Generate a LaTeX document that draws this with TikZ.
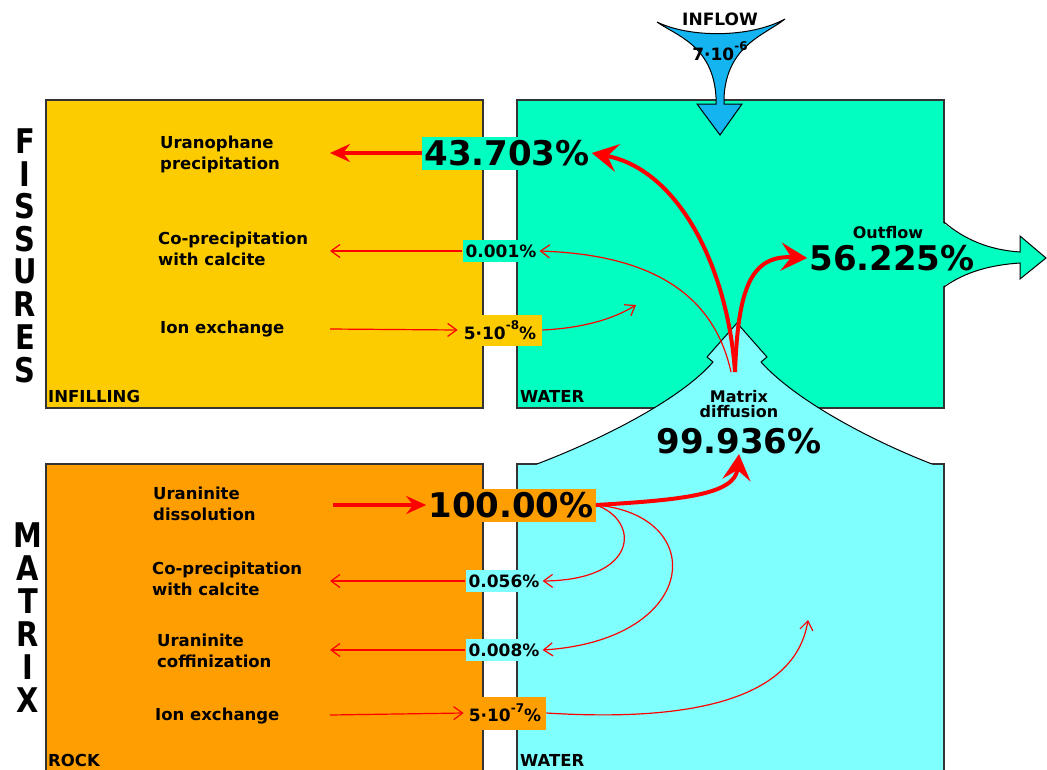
\documentclass[tikz,border=0pt]{standalone}
\usepackage{fontspec}
\setmainfont{DejaVu Sans}
\usetikzlibrary{arrows.meta}
\definecolor{infill}{RGB}{252,204,0}
\definecolor{fwater}{RGB}{0,255,192}
\definecolor{rock}{RGB}{255,158,0}
\definecolor{mwater}{RGB}{128,255,255}
\definecolor{inflow}{RGB}{20,180,240}
\newcommand{\pw}[1]{\raisebox{0.55em}{\fontsize{12}{12}\selectfont #1}}
\begin{document}
\begin{tikzpicture}[
			x=1pt,y=-1pt,
			box/.style={draw=black!80,line width=1.2pt},
			lbl/.style={font=\bfseries\fontsize{16.5}{21}\selectfont,align=left,anchor=west,inner sep=0pt},
			pbig/.style={font=\bfseries\fontsize{34}{34}\selectfont,inner xsep=2pt,inner ysep=0pt,minimum height=33pt},
			psmall/.style={font=\bfseries\fontsize{17}{17}\selectfont,inner xsep=3pt,inner ysep=0pt,minimum height=22pt},
			letter/.style={font=\bfseries\fontsize{34}{34}\selectfont,inner sep=0pt},
			bigflow/.style={red,line width=4pt,-{Stealth[length=26pt,width=28pt,inset=10pt]}},
			midflow/.style={red,line width=3.5pt,-{Stealth[length=20pt,width=18pt,inset=7pt]}},
			smallflow/.style={red,line width=1.2pt,-{Straight Barb[length=9pt,width=13pt]}}
		]
		\useasboundingbox (0,0) rectangle (1047,769);
		\draw[box,fill=infill] (46,100) rectangle (483,408);
		\draw[box,fill=fwater] (517,100) rectangle (944,408);
		\draw[box,fill=rock] (46,464) rectangle (483,790);
		\draw[box,fill=mwater] (517,464) rectangle (944,790);
		\fill[fwater] (942,222) .. controls (965,240) and (990,250) .. (1020,252) -- (1020,236) -- (1046,258) -- (1020,279) -- (1020,263) .. controls (990,265) and (965,272) .. (942,287) -- cycle;
		\draw[line width=1pt] (944,222) .. controls (965,240) and (990,250) .. (1020,252) -- (1020,236) -- (1046,258) -- (1020,279) -- (1020,263) .. controls (990,265) and (965,272) .. (944,287);
		\fill[mwater] (537,464) .. controls (600,440) and (680,400) .. (713,362) -- (707,357) -- (737,323) -- (767,357) -- (761,362) .. controls (795,400) and (870,440) .. (932,464) -- (932,466) -- (537,466) -- cycle;
		\draw[line width=1pt] (537,464) .. controls (600,440) and (680,400) .. (713,362) -- (707,357) -- (737,323) -- (767,357) -- (761,362) .. controls (795,400) and (870,440) .. (932,464);
		\draw[line width=1pt,fill=inflow] (657,22) .. controls (690,38) and (750,38) .. (785,19) .. controls (765,35) and (727,45) .. (724,97) -- (724,104) -- (742,104) -- (720,135) -- (697,104) -- (716,104) -- (716,97) .. controls (713,45) and (675,35) .. (657,22) -- cycle;
		\foreach \l [count=\i] in {F,I,S,S,U,R,E,S}
			\node[letter] (fis\i) at (25,{141+32.7*(\i-1)}) {\scalebox{0.85}[1]{\l}};
		\foreach \l [count=\i] in {M,A,T,R,I,X}
			\node[letter] (mat\i) at (28,{535+33*(\i-1)}) {\scalebox{0.85}[1]{\l}};
		\node[lbl] (uprec) at (160,154) {Uranophane\\precipitation};
		\node[lbl] (fcopr) at (158,249) {Co-precipitation\\with calcite};
		\node[lbl] (fion) at (160,329) {Ion exchange};
		\node[lbl] (infl) at (48,396) {INFILLING};
		\node[lbl] (fwat) at (520,396) {WATER};
		\node[lbl] (udiss) at (153,504) {Uraninite\\dissolution};
		\node[lbl] (mcopr) at (152,579) {Co-precipitation\\with calcite};
		\node[lbl] (ucoff) at (157,651) {Uraninite\\coffinization};
		\node[lbl] (mion) at (155,716) {Ion exchange};
		\node[lbl] (rock) at (48,760) {ROCK};
		\node[lbl] (mwat) at (520,760) {WATER};
		\node[font=\bfseries\fontsize{17}{17}\selectfont] (inlbl) at (720,19) {INFLOW};
		\node[font=\bfseries\fontsize{17}{17}\selectfont] (inval) at (720,51) {7·10\pw{-6}};
		\node[font=\bfseries\fontsize{16}{16}\selectfont] (outlbl) at (888,233) {Outflow};
		\node[pbig,minimum height=0pt] (p562) at (892,258) {56.225\%};
		\node[font=\bfseries\fontsize{16}{15}\selectfont,align=center] (mdlbl) at (739,404) {Matrix\\diffusion};
		\node[pbig,minimum height=0pt] (p999) at (739,441) {99.936\%};
		\coordinate (src) at (735,372);
		\coordinate (dst1) at (636,305);
		\coordinate (dst2) at (808,620);
		\coordinate (e1) at (330,153);
		\coordinate (e2) at (330,251);
		\coordinate (e3) at (330,329);
		\coordinate (e4) at (333,505);
		\coordinate (e5) at (330,581);
		\coordinate (e6) at (330,650);
		\coordinate (e7) at (330,715);
		\node[pbig,fill=fwater] (p43) at (507,153) {43.703\%};
		\node[psmall,fill=fwater] (p001) at (501,251) {0.001\%};
		\node[psmall,fill=infill,minimum height=31pt,inner xsep=6pt] (p5e8) at (500,330) {5·10\pw{-8}\%};
		\node[pbig,fill=rock] (p100) at (511,505) {100.00\%};
		\node[psmall,fill=mwater] (p056) at (504,581) {0.056\%};
		\node[psmall,fill=mwater] (p008) at (504,650) {0.008\%};
		\node[psmall,fill=rock,minimum height=33pt,inner xsep=5pt] (p5e7) at (505,713) {5·10\pw{-7}\%};
		\draw[bigflow] (src) .. controls (728,270) and (680,170) .. (p43.east);
		\draw[bigflow] (src) .. controls (738,290) and (750,255) .. (p562.west);
		\draw[bigflow] (p100.east) .. controls (680,500) and (735,495) .. (p999.south);
		\draw[smallflow] ([xshift=-4pt]src) .. controls (715,300) and (660,255) .. (p001.east);
		\draw[smallflow] (p5e8.east) .. controls (585,328) and (615,318) .. (dst1);
		\draw[smallflow] (p100.east) .. controls (640,520) and (640,580) .. (p056.east);
		\draw[smallflow] (p100.east) .. controls (710,515) and (700,640) .. (p008.east);
		\draw[smallflow] (p5e7.east) .. controls (690,722) and (795,700) .. (dst2);
		\draw[midflow] (p43.west) -- (e1);
		\draw[smallflow] (p001.west) -- (e2);
		\draw[smallflow] (e3) -- (p5e8.west);
		\draw[midflow] (e4) -- (p100.west);
		\draw[smallflow] (p056.west) -- (e5);
		\draw[smallflow] (p008.west) -- (e6);
		\draw[smallflow] (e7) -- (p5e7.west);
	\end{tikzpicture}
\end{document}
